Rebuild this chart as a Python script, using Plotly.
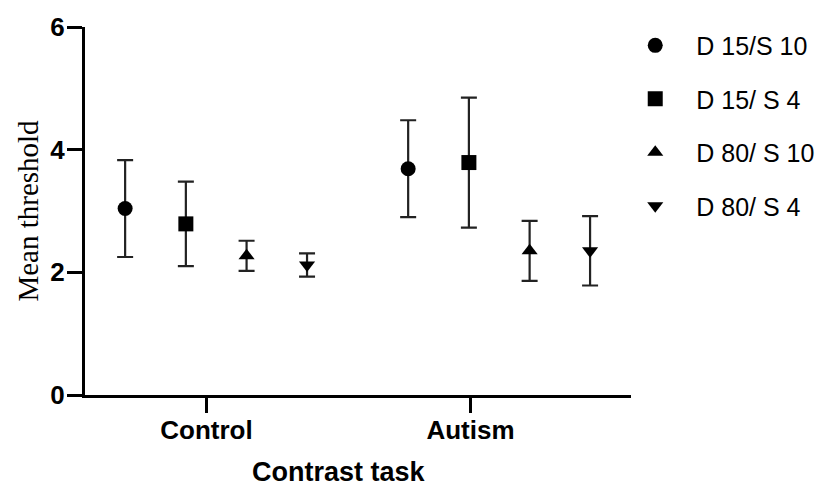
import plotly.graph_objects as go

# Groups on the x axis and the four stimulus conditions
groups = ["Control", "Autism"]
series_names = ["D 15/S 10", "D 15/ S 4", "D 80/ S 10", "D 80/ S 4"]

# Mean thresholds per group
d15_s10 = [3.04, 3.69]
d15_s4 = [2.79, 3.79]
d80_s10 = [2.27, 2.35]
d80_s4 = [2.12, 2.35]

# Error bar half-lengths per group
d15_s10_err = [0.79, 0.79]
d15_s4_err = [0.69, 1.06]
d80_s10_err = [0.245, 0.49]
d80_s4_err = [0.19, 0.565]

# Y tick labels
y_ticks = [0, 2, 4, 6]

means = [d15_s10, d15_s4, d80_s10, d80_s4]
errs = [d15_s10_err, d15_s4_err, d80_s10_err, d80_s4_err]
symbols = ["circle", "square", "triangle-up", "triangle-down"]
sizes = [15, 15, 14, 14]

# Horizontal placement of each condition around its group tick
cond_offsets = [-0.308, -0.078, 0.152, 0.381]
group_shift = [0.0, 0.072]

SANS = "Liberation Sans, Arial, sans-serif"
SERIF = "Liberation Serif, Times New Roman, serif"

fig = go.Figure()
for i, name in enumerate(series_names):
    xs = [g + cond_offsets[i] + group_shift[g] for g in range(len(groups))]
    fig.add_trace(go.Scatter(
        x=xs,
        y=means[i],
        mode="markers",
        name=name,
        legendgroup=name,
        marker=dict(symbol=symbols[i], size=sizes[i], color="black"),
        error_y=dict(type="data", array=errs[i], visible=True,
                     color="#222222", thickness=2.2, width=8),
    ))

fig.update_layout(
    width=832,
    height=491,
    margin=dict(l=85, r=193, t=24.5, b=96),
    paper_bgcolor="white",
    plot_bgcolor="white",
    showlegend=True,
    legend=dict(
        x=0.9693, xanchor="left",
        y=1.012, yanchor="top",
        font=dict(family=SANS, size=25, color="black"),
        traceorder="grouped",
        tracegroupgap=18,
        itemwidth=72,
        bgcolor="rgba(0,0,0,0)",
    ),
    xaxis=dict(
        range=[-0.46, 1.608],
        tickmode="array",
        tickvals=list(range(len(groups))),
        ticktext=groups,
        ticks="outside",
        ticklen=15,
        tickwidth=3,
        tickcolor="black",
        ticklabelstandoff=-5,
        showline=True,
        linewidth=3,
        linecolor="black",
        showgrid=False,
        zeroline=False,
        tickfont=dict(family=SANS, size=26, color="black", weight="bold"),
    ),
    yaxis=dict(
        range=[0, 6],
        tickmode="array",
        tickvals=y_ticks,
        ticktext=[str(v) for v in y_ticks],
        ticks="outside",
        ticklen=15,
        tickwidth=3,
        tickcolor="black",
        ticklabelstandoff=-3,
        showline=True,
        linewidth=3,
        linecolor="black",
        showgrid=False,
        zeroline=False,
        tickfont=dict(family=SANS, size=26, color="black", weight="bold"),
        title=dict(text="Mean threshold", font=dict(family=SERIF, size=29, color="black"),
                   standoff=4),
    ),
    annotations=[dict(
        text="<b>Contrast task</b>",
        xref="paper", yref="paper",
        x=(342.5 - 85) / 554, y=-0.2105,
        xanchor="center", yanchor="middle",
        showarrow=False,
        font=dict(family=SANS, size=27, color="black"),
    )],
)

fig.write_html("out.html")
